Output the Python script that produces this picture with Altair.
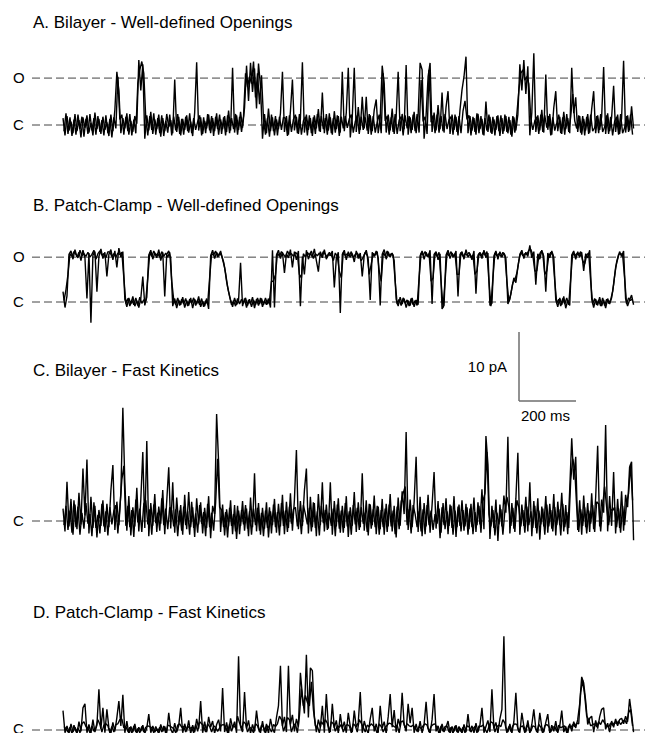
import altair as alt
import pandas as pd

# ---------------- data: current in pA relative to the closed level ----------------
# main samples every 7 ms, plus intermediate samples (…_mid) half way between them
DT_MS = 7.0

trace_a = [
    1.0,-1.5,1.3,-0.8,0.5,-1.2,1.6,-0.9,0.7,-1.8,1.1,-0.4,1.4,-1.1,0.3,-1.5,1.8,-0.6,0.9,-1.3,
    1.2,-0.7,0.4,-1.6,1.5,-0.9,2.2,7.7,5.0,-1.2,1.0,-0.5,1.7,-1.4,0.6,-1.0,1.3,0.2,9.4,5.0,
    8.8,-2.0,1.4,-0.8,1.9,-1.3,0.8,-0.6,1.5,-1.7,1.0,-0.9,1.6,-0.3,0.7,-1.2,6.6,-1.0,1.2,-1.5,
    0.9,-0.7,1.4,-1.1,0.5,-1.6,1.8,9.1,-0.8,1.1,-1.3,0.6,-0.5,1.5,-1.2,1.0,-0.9,1.7,-1.4,0.8,
    -0.6,1.3,-1.0,2.1,-0.8,8.3,-1.1,1.4,-0.7,1.9,-0.4,2.5,8.6,3.5,9.0,4.8,8.2,2.4,8.9,5.6,
    -2.0,1.6,-1.2,2.4,-0.9,1.1,-1.5,0.8,-0.6,1.7,7.7,-1.0,1.3,-1.4,2.0,6.6,-0.8,1.2,-1.3,0.9,
    9.1,-1.1,1.5,-0.7,1.0,-1.6,1.4,-0.5,2.3,-1.0,4.7,-1.2,1.6,-0.8,1.1,-1.4,2.0,-0.6,1.3,-1.1,
    7.7,-0.9,1.8,8.3,-1.8,1.2,8.3,-1.0,2.6,-0.7,4.1,-0.5,4.1,-1.3,1.4,-0.9,2.2,3.7,-1.2,1.0,
    8.6,6.0,-1.1,1.5,-0.8,2.4,-1.3,1.2,7.7,-0.9,1.6,-0.6,8.7,-1.4,1.1,-0.7,1.9,-1.2,1.3,9.0,
    8.0,-2.0,1.4,7.0,9.0,-1.0,1.8,-0.8,2.9,-0.6,4.7,-1.1,2.6,4.9,-1.3,1.5,-0.7,1.2,-1.5,2.2,
    5.1,7.0,9.9,-1.2,1.3,-0.8,1.0,-1.4,1.6,-0.6,0.9,-1.5,3.4,-1.0,1.2,-1.3,0.8,-0.7,1.4,-1.6,
    1.0,-0.9,1.3,-1.2,0.7,-1.7,1.1,-0.8,1.5,8.8,5.0,9.4,4.5,8.5,-1.5,1.8,10.4,-1.0,1.4,-0.8,
    2.2,-1.1,7.3,-0.7,1.6,-1.4,2.5,4.9,-0.9,1.2,-1.3,1.9,-0.6,1.0,-1.2,8.3,1.7,4.0,-1.0,1.3,
    -1.4,0.9,-0.8,1.6,-1.1,2.3,4.9,-1.2,1.4,-0.7,1.2,8.4,-1.3,1.7,-0.9,1.1,5.7,-1.0,1.5,-1.3,
    1.0,9.3,-1.1,1.4,-0.8,2.7,-0.5,
]
trace_a_mid = [
    -0.9,1.7,-1.3,1.1,-1.6,0.8,-1.4,1.5,-0.6,1.2,-1.7,0.9,-1.3,1.6,-0.8,1.0,-1.4,1.3,-1.0,0.7,
    -1.5,1.4,-1.2,0.9,-1.8,1.1,-0.5,7.0,0.8,1.5,-1.4,1.2,-0.9,1.6,-1.5,0.8,-1.2,6.0,8.0,9.2,
    7.5,0.9,-1.5,1.3,-0.7,1.7,-1.4,1.0,-1.2,1.4,-1.6,0.6,-1.1,1.5,-1.5,1.2,-0.8,1.6,-1.3,0.9,
    -1.4,1.2,-0.9,1.7,-1.2,1.0,-0.7,0.5,1.4,-1.5,1.1,-1.2,1.6,-0.8,1.3,-1.6,1.2,-0.6,1.5,-1.3,
    1.1,-1.5,1.4,-1.2,1.0,-0.6,1.6,-1.4,1.2,-1.0,1.3,7.5,5.5,7.0,6.0,9.2,4.0,7.5,3.0,7.2,
    0.9,-1.4,1.0,-1.7,1.5,-0.9,1.3,-1.5,1.2,-0.7,1.1,1.0,-1.6,1.4,-1.0,0.8,1.5,-1.2,1.6,-1.4,
    0.6,1.2,-1.5,1.4,-1.2,1.1,-1.3,1.6,-0.9,1.3,-0.6,1.0,-1.4,1.7,-1.2,1.0,-1.1,1.4,-1.6,1.2,
    -0.5,1.3,-0.4,0.9,1.5,-1.1,0.5,1.4,-1.3,1.2,-0.7,1.1,-0.8,1.6,-1.4,1.3,-1.1,0.4,1.5,-1.2,
    7.5,0.6,1.3,-1.4,1.1,-1.0,1.6,-1.3,0.7,1.2,-1.5,1.4,-0.5,1.3,-1.2,1.5,-0.9,1.6,-1.1,6.5,
    0.5,1.2,-1.3,8.0,0.4,1.4,-1.2,1.5,-1.1,1.3,-0.9,1.6,-0.6,0.8,1.2,-1.4,1.5,-1.0,1.3,-1.2,
    2.0,3.5,0.8,1.4,-1.5,1.2,-1.0,1.7,-1.2,1.3,-1.4,1.0,-0.8,1.5,-1.1,1.2,-1.5,1.3,-0.9,1.4,
    -1.3,1.5,-1.0,1.2,-1.4,1.3,-1.1,1.6,5.0,7.5,8.0,6.5,7.0,6.0,0.9,-0.7,0.6,1.2,-1.3,1.5,
    -1.0,1.4,-0.4,1.3,-1.5,1.1,-0.8,0.3,1.5,-1.2,1.1,-1.4,1.6,-1.0,1.2,4.5,0.6,-0.5,1.4,-1.1,
    1.3,-1.5,1.2,-1.3,1.5,-0.9,-0.4,1.3,-1.2,1.6,-1.0,-0.3,1.4,-1.3,1.2,-1.5,0.5,1.2,-1.4,1.6,
    -1.2,-0.4,1.3,-1.0,1.5,-1.4,
]

trace_b = [
    1.5,-0.8,0.9,6.9,7.4,6.2,7.6,6.5,7.2,6.0,7.5,6.4,0.5,7.1,-3.0,6.8,7.3,1.5,6.6,7.7,
    6.3,7.2,3.7,6.9,7.6,6.1,7.4,5.0,7.8,6.5,7.3,0.4,-0.7,0.6,-0.3,0.8,-0.6,0.2,-0.8,0.5,
    3.7,-0.5,0.7,6.8,7.5,6.2,7.1,6.4,7.6,6.0,7.2,0.8,6.9,7.4,6.3,-0.6,0.5,-0.9,0.3,-0.4,
    0.7,-0.8,0.2,-0.5,0.6,-0.9,0.4,-0.3,0.8,-0.7,0.1,-0.6,0.5,-1.0,6.7,7.5,6.3,7.2,6.6,7.4,
    6.2,5.0,3.0,1.5,0.3,-0.7,0.6,-0.4,0.2,5.7,-0.6,0.5,-0.8,0.3,-0.3,0.7,-0.9,0.4,-0.5,0.6,
    -0.7,0.2,-0.4,0.5,-0.8,7.5,-0.8,6.8,7.5,6.3,7.2,4.2,7.0,6.4,7.6,5.0,7.3,6.1,7.4,-0.6,
    6.6,4.0,7.5,6.2,7.1,6.5,7.7,6.0,4.4,7.3,6.4,7.6,6.2,7.0,6.7,7.4,2.1,6.3,7.2,-1.6,
    6.9,7.5,6.1,7.3,6.5,7.0,5.8,7.4,6.3,7.1,3.7,6.8,7.5,6.2,0.3,7.2,6.6,7.4,6.4,-0.5,
    6.9,7.6,6.2,7.3,6.5,7.1,6.0,0.4,-0.6,0.7,-0.3,0.5,-0.8,0.2,-0.5,0.6,-0.7,0.3,-0.4,6.7,
    7.4,6.2,7.2,6.5,7.5,-0.3,6.9,7.3,6.1,7.0,-1.0,-0.5,6.8,7.5,6.3,7.1,6.6,7.4,0.8,6.9,
    7.3,6.2,7.6,6.5,7.0,6.1,7.4,1.2,6.8,7.2,6.3,7.5,6.4,7.1,-0.5,-0.2,6.7,7.4,6.2,7.3,
    6.5,7.1,6.3,-0.3,0.4,2.0,3.5,2.8,5.0,6.9,7.5,6.3,7.2,6.6,8.2,6.4,7.3,2.5,7.0,6.2,
    7.5,6.6,1.5,7.1,6.4,7.4,6.5,0.3,-0.7,0.6,-0.4,0.8,-0.9,0.2,-0.5,6.8,7.4,6.2,7.3,6.5,
    7.2,4.5,7.0,6.4,7.5,0.5,-0.8,0.4,-0.5,0.7,-0.6,0.3,-0.9,0.5,-0.3,0.6,2.5,5.0,6.2,7.3,
    6.6,7.4,0.5,-0.6,0.3,1.0,-0.4,
]
trace_b_mid = [
    0.2,1.8,4.0,7.0,6.6,7.3,6.9,6.4,7.5,6.7,7.0,6.6,7.2,6.5,6.9,7.5,6.2,7.0,7.4,6.8,
    7.0,6.4,7.3,7.2,6.6,7.0,6.5,7.1,6.9,7.2,3.5,-0.2,0.5,-0.6,0.3,-0.4,0.6,-0.5,0.7,-0.2,
    0.3,0.2,3.5,7.2,6.6,7.4,6.8,7.0,6.5,7.3,6.6,7.1,6.5,7.2,3.0,0.3,-0.4,0.6,-0.5,0.4,
    -0.3,0.5,-0.6,0.4,-0.2,0.6,-0.5,0.3,-0.4,0.5,-0.7,0.2,-0.3,3.5,7.0,6.8,7.4,6.5,7.1,6.7,
    5.8,4.2,2.2,0.8,-0.4,0.2,-0.6,0.5,-0.3,0.4,-0.2,0.6,-0.5,0.4,-0.7,0.3,-0.4,0.6,-0.3,0.5,
    -0.4,0.6,-0.3,0.2,3.0,3.0,4.0,7.1,6.6,7.3,6.9,6.5,7.4,6.8,7.0,6.6,7.2,6.9,4.0,3.5,
    7.0,6.5,7.2,6.8,7.4,6.3,7.0,6.7,7.1,6.6,7.3,6.9,6.5,7.2,6.8,6.0,7.1,6.6,4.5,3.5,
    7.2,6.7,7.0,6.6,7.3,6.4,6.9,7.1,6.6,6.0,6.5,7.2,6.7,4.0,5.5,7.0,6.8,7.3,4.5,3.0,
    7.1,6.7,7.4,6.6,7.0,6.8,3.0,-0.3,0.4,-0.5,0.6,-0.2,0.3,-0.6,0.5,-0.4,0.2,-0.5,3.5,7.1,
    6.8,7.3,6.6,7.0,3.0,3.5,7.1,6.6,7.2,3.0,-0.8,3.0,7.1,6.7,7.3,6.5,7.0,4.0,4.0,7.2,
    6.6,7.0,6.8,7.2,6.5,6.8,4.0,4.5,7.0,6.7,7.1,6.8,7.3,3.0,-0.6,3.5,7.1,6.7,7.0,6.6,
    7.2,6.8,3.0,0.1,1.2,2.8,3.2,4.2,6.0,7.2,6.7,7.0,6.9,7.5,7.6,6.8,4.5,4.5,6.6,7.3,
    7.0,4.0,4.5,6.7,7.2,6.8,3.0,-0.2,0.4,-0.6,0.5,-0.3,0.6,-0.4,3.5,7.1,6.7,7.0,6.8,7.3,
    6.0,5.5,6.8,7.1,3.0,-0.3,0.5,-0.4,0.3,-0.6,0.6,-0.5,0.4,-0.2,0.3,1.5,3.8,5.8,6.9,7.0,
    6.9,3.5,-0.3,0.6,0.2,0.5,
]

trace_c = [
    1.8,-1.5,5.7,-0.8,3.2,-2.0,2.4,-1.2,4.1,-0.5,7.6,0.8,8.9,-1.8,3.5,-1.0,2.2,-2.4,1.6,-0.7,
    3.0,-1.6,2.5,-0.9,4.4,8.1,-1.3,2.8,-0.6,4.0,16.4,5.5,-1.4,3.6,-2.1,2.0,-0.8,4.8,-1.5,3.1,
    10.0,-1.0,11.6,-2.2,2.6,-0.7,3.9,-1.6,2.1,-0.4,4.5,-1.9,2.9,7.8,-1.1,5.6,-1.7,3.4,-0.6,2.3,
    -2.0,3.8,-1.2,4.2,-0.9,2.0,-2.3,3.3,-0.5,2.7,-1.8,1.9,-1.0,3.6,-2.5,2.2,1.0,15.5,8.5,-1.6,
    2.4,-2.1,1.7,-0.8,3.0,-1.9,2.3,-2.6,1.5,-0.7,2.9,-1.4,1.8,-2.2,3.4,-0.9,6.9,-1.5,2.6,-2.0,
    1.9,-1.1,2.7,-2.4,1.4,-0.6,3.2,-1.7,2.5,-0.8,3.8,-1.9,2.8,-1.0,4.0,-1.4,3.1,10.3,-1.2,2.9,
    -0.7,4.4,7.6,-1.8,3.5,-0.9,2.6,-2.2,3.9,-0.6,5.6,-1.5,2.4,-1.1,5.6,-2.0,2.9,-0.8,3.3,-1.7,
    2.2,-1.0,3.6,-2.3,2.0,-0.7,4.2,-1.6,2.7,-0.9,6.9,-1.4,3.0,-2.1,2.4,-0.6,3.7,-1.9,2.1,-1.2,
    3.2,-2.0,2.5,-0.8,3.9,-1.5,2.2,-2.4,3.4,-0.7,4.3,1.0,12.9,-1.3,3.1,-0.9,2.8,9.3,-1.6,3.5,
    -2.2,2.6,-0.8,3.8,-1.7,2.3,7.1,-1.1,2.9,-2.5,2.0,-0.6,3.3,-1.9,2.4,-1.0,3.6,-2.3,2.1,-0.7,
    3.0,-1.4,2.5,-2.0,1.8,-0.9,3.4,-1.6,2.7,-0.5,4.6,-1.2,12.3,8.2,-2.6,2.2,-1.0,3.1,-2.9,2.4,
    -0.8,3.7,1.2,12.2,-1.8,2.6,-1.1,3.2,9.9,-2.0,2.4,-0.7,3.5,-1.5,5.6,-2.2,2.9,-1.0,3.3,-2.7,
    2.1,-0.8,3.6,-1.7,2.5,-1.1,3.9,-2.1,2.8,-0.6,4.1,-1.5,2.3,-1.9,4.6,12.0,6.0,9.3,-1.3,3.0,
    -2.0,3.7,-0.9,2.6,-1.6,4.0,-1.2,3.4,10.9,-0.8,3.1,1.2,13.9,-1.5,3.6,-0.7,7.1,-1.8,3.2,-1.0,
    4.3,-1.4,3.8,2.0,7.8,8.6,-2.8,
]
trace_c_mid = [
    -0.6,2.2,-1.3,1.5,-1.7,3.0,-0.9,2.1,-2.0,1.2,-1.1,2.6,-0.4,1.0,-2.2,2.7,-1.0,0.9,-1.8,2.5,
    -0.8,1.4,-2.1,2.0,-0.5,1.5,2.3,-1.8,1.9,6.0,8.0,-0.7,2.2,-0.9,1.6,-2.3,3.1,-0.2,1.8,-1.6,
    2.5,3.0,-0.5,1.7,-2.0,2.4,-0.3,1.2,-1.4,3.3,-0.6,1.8,-1.2,2.0,1.5,-0.8,1.7,-2.2,1.5,-1.4,
    2.1,-0.6,1.4,-2.0,2.8,-1.0,1.1,-1.7,2.3,-0.4,1.3,-2.2,2.5,-0.9,1.2,-1.4,2.6,9.0,2.0,1.6,
    -0.9,1.3,-2.4,1.9,-0.7,1.0,-1.5,2.2,-1.9,1.6,-0.5,2.3,-1.1,1.4,-2.0,1.8,-0.6,1.9,-1.4,1.2,
    -2.2,1.5,-1.0,2.0,-1.8,2.4,-0.9,1.3,-2.1,2.6,-0.7,1.5,-1.6,2.1,-0.4,1.7,2.0,-0.8,1.6,-1.9,
    2.3,1.0,-0.5,1.9,-1.5,2.7,-1.0,1.4,-2.1,2.2,-0.3,1.6,-1.3,1.2,-0.7,1.8,-2.2,2.4,-1.1,1.5,
    -1.7,2.6,-0.8,1.4,-2.0,2.3,-0.5,1.9,-1.3,2.0,-0.4,1.2,-1.6,2.5,-1.1,1.7,-0.9,2.2,-2.0,1.6,
    -0.9,1.8,-1.6,2.4,-0.8,1.5,-1.9,2.1,-1.2,2.8,4.0,5.0,-0.6,1.7,-1.8,2.3,1.0,-0.9,1.4,-1.5,
    1.7,-1.9,2.3,-0.6,1.5,-1.3,1.0,-0.4,1.8,-1.7,2.6,-1.2,1.4,-0.7,2.2,-2.0,1.5,-0.9,2.4,-1.5,
    1.6,-0.8,2.0,-1.2,2.5,-1.9,1.3,-0.6,2.2,-1.7,2.9,4.0,10.0,1.0,-0.8,1.6,-2.1,1.2,-0.5,1.7,
    -2.0,1.5,3.5,2.0,-0.7,1.9,-1.6,3.0,2.0,-0.8,1.6,-1.7,2.1,-0.6,1.4,-1.0,2.2,-1.8,1.5,-0.5,
    1.8,-2.0,2.4,-0.8,1.6,-1.5,2.0,-0.6,1.7,-2.1,2.5,-0.9,1.3,-1.0,6.0,9.0,7.5,2.0,-1.6,1.7,
    -0.7,2.0,-1.8,1.5,-0.4,2.3,-1.6,2.8,2.5,-1.5,2.2,5.0,2.0,-0.6,1.7,1.5,2.0,-0.9,1.8,-1.7,
    2.2,-0.6,2.6,4.0,8.2,3.0,
]

trace_d = [
    2.8,-0.4,0.6,-0.5,0.9,-0.3,0.4,-0.6,1.2,-0.2,3.2,3.8,-0.4,0.8,-0.5,1.5,-0.3,0.7,5.9,0.2,
    3.2,-0.4,3.0,0.3,-0.5,1.1,-0.2,1.8,4.2,0.6,5.1,-0.4,1.3,-0.6,0.5,-0.3,0.9,-0.5,0.4,-0.2,
    0.7,-0.5,0.3,2.3,-0.4,0.6,-0.3,0.2,-0.6,0.8,-0.2,0.5,-0.4,2.5,0.1,-0.5,1.0,-0.3,0.6,3.2,
    -0.4,0.9,-0.2,1.4,-0.5,0.7,-0.3,1.6,0.2,4.2,-0.4,1.2,-0.3,1.9,0.4,1.3,-0.5,0.8,1.5,-0.2,
    6.1,-0.3,1.1,-0.5,1.7,0.3,1.2,-0.4,10.7,0.5,-0.3,5.5,0.2,1.4,-0.5,0.8,-0.2,2.8,0.4,-0.4,
    1.3,-0.3,0.9,-0.5,1.6,0.2,-0.4,1.8,3.5,9.3,0.6,1.9,-0.3,9.3,0.8,2.2,-0.2,1.6,0.5,8.3,
    5.0,2.4,10.9,1.8,9.0,8.6,2.0,-0.3,1.5,0.4,3.5,-0.4,5.2,0.6,-0.3,3.8,0.3,1.4,-0.5,2.3,
    0.2,1.2,-0.4,2.5,0.5,-0.3,2.8,0.4,1.1,5.5,-0.4,1.3,0.2,-0.5,1.6,3.2,-0.2,0.9,-0.4,3.5,
    0.3,1.2,-0.5,1.9,5.2,0.4,2.9,-0.3,1.6,0.5,5.4,0.8,-0.2,3.8,1.0,3.2,-0.4,0.9,-0.3,1.3,
    -0.4,0.8,4.1,0.3,-0.5,1.5,5.2,-0.2,0.6,-0.4,0.9,-0.3,0.4,1.3,-0.5,0.5,-0.2,0.7,-0.4,0.3,
    -0.5,0.8,-0.3,2.3,-0.2,0.6,-0.4,1.0,-0.3,0.7,3.2,-0.4,0.5,1.4,-0.3,5.9,0.2,1.1,-0.5,1.6,
    3.0,13.6,0.4,-0.3,0.9,-0.5,1.2,5.4,0.3,-0.4,2.5,0.6,-0.3,1.4,-0.5,0.8,3.0,0.2,-0.4,2.5,
    0.4,-0.3,1.1,2.3,-0.5,0.7,-0.2,1.3,-0.4,0.6,2.8,-0.3,0.5,-0.5,0.9,-0.2,1.2,0.3,1.5,3.8,
    7.7,6.8,4.2,0.8,1.7,2.0,-0.3,1.4,0.2,1.9,3.0,3.2,0.1,1.0,-0.3,1.3,0.4,1.6,0.6,1.5,
    1.7,0.9,2.0,1.2,4.5,2.3,-0.3,
]
trace_d_mid = [
    0.5,0.2,-0.3,0.4,-0.5,0.7,-0.2,0.3,-0.4,0.9,1.2,0.5,0.3,-0.4,0.6,-0.2,0.4,1.5,0.8,-0.3,
    0.7,0.9,0.6,-0.4,0.5,-0.3,0.8,0.9,1.5,1.6,0.3,0.5,-0.2,0.4,-0.5,0.6,-0.3,0.2,-0.4,0.5,
    -0.3,0.4,0.6,0.5,0.3,-0.4,0.5,-0.2,0.4,-0.3,0.6,-0.5,0.7,0.6,0.4,0.2,-0.4,0.7,0.9,0.4,
    0.5,-0.3,0.6,0.2,0.4,-0.4,0.8,-0.2,1.2,0.9,0.6,-0.3,0.9,0.5,-0.3,0.6,0.4,-0.2,0.3,0.7,
    0.8,0.5,-0.4,0.9,-0.2,0.7,0.3,2.0,1.0,0.2,1.2,0.9,-0.3,0.4,0.2,-0.4,0.9,0.6,-0.3,0.7,
    0.4,-0.5,0.6,0.3,-0.3,0.8,0.5,0.9,2.0,1.5,-0.2,0.7,1.8,1.5,-0.3,0.6,0.9,-0.4,2.0,6.0,
    3.5,5.0,4.0,3.5,7.0,3.0,0.6,0.5,-0.4,1.2,0.8,1.5,1.0,-0.4,1.2,0.9,-0.2,0.6,0.4,0.8,
    -0.3,0.5,0.8,0.6,-0.4,0.9,0.6,-0.3,1.5,1.0,0.4,-0.3,0.7,0.5,0.9,0.6,0.3,-0.5,0.9,0.5,
    -0.3,0.4,0.7,1.0,0.9,0.6,0.4,0.7,-0.4,1.2,1.3,0.3,0.9,0.6,0.5,0.7,0.3,-0.2,0.5,0.2,
    0.6,0.9,0.7,-0.3,0.5,0.8,0.9,0.3,-0.5,0.6,-0.2,0.5,0.6,-0.3,0.4,-0.5,0.6,-0.3,0.5,-0.2,
    0.4,-0.4,0.6,0.5,-0.3,0.2,0.5,-0.4,0.6,0.5,0.7,0.2,-0.4,0.5,1.2,1.0,-0.3,0.5,0.7,0.5,
    1.5,1.0,-0.4,0.5,-0.2,0.6,0.9,0.8,-0.3,0.5,0.6,-0.4,0.7,0.3,-0.2,0.6,0.5,-0.3,0.8,0.4,
    -0.5,0.6,0.8,0.5,-0.3,0.4,0.5,-0.2,0.7,0.3,0.5,0.6,-0.4,0.6,0.3,0.8,0.5,1.0,0.9,5.5,
    7.2,5.0,2.0,1.5,0.6,0.8,0.9,0.5,1.2,0.8,1.5,1.0,0.6,0.4,1.0,0.7,1.1,0.9,1.3,0.8,
    1.2,1.5,0.9,2.5,3.0,0.6,
]

panel_titles = [
    "A. Bilayer - Well-defined Openings",
    "B. Patch-Clamp - Well-defined Openings",
    "C. Bilayer - Fast Kinetics",
    "D. Patch-Clamp - Fast Kinetics",
]
OPEN_PA = 6.8           # unitary open-channel current (pA)
SCALE_PA = 10           # scale bar, current
SCALE_MS = 200          # scale bar, time
scale_labels = ["10 pA", "200 ms"]

series = [
    ("A", trace_a, trace_a_mid),
    ("B", trace_b, trace_b_mid),
    ("C", trace_c, trace_c_mid),
    ("D", trace_d, trace_d_mid),
]
for name, tr, mid in series:
    assert len(tr) == 287 and len(mid) == 286, f"trace {name}: {len(tr)} / {len(mid)}"

# ---------------- layout (pixels -> data units) ----------------
W, H = 645, 733
PX_PER_PA = 6.9          # 10 pA = 69 px
PX_PER_MS = 57 / 200     # 200 ms = 57 px
TRACE_X0 = 63            # px where the traces start
Y_TOP = -3 / PX_PER_PA + H / PX_PER_PA   # data value at the top edge


def xv(px):
    return (px - TRACE_X0) / PX_PER_MS


def yv(py):
    return Y_TOP - py / PX_PER_PA


X_DOM = [xv(0), xv(W)]
Y_DOM = [yv(H), yv(0)]

closed_px = {"A": 125, "B": 302, "C": 521, "D": 730}
closed = {k: yv(v) for k, v in closed_px.items()}

xs = alt.Scale(domain=X_DOM, nice=False, zero=False)
ys = alt.Scale(domain=Y_DOM, nice=False, zero=False)
FONT = "Liberation Sans"

# traces: the main samples and the half-step samples are drawn as two interleaved strokes
rows = []
for name, tr, mid in series:
    for i, v in enumerate(tr):
        rows.append({"trace": name + "0", "t": i * DT_MS, "current": closed[name] + v})
    for i, v in enumerate(mid):
        rows.append({"trace": name + "1", "t": i * DT_MS + DT_MS / 2, "current": closed[name] + v})
df_tr = pd.DataFrame(rows)

traces = alt.Chart(df_tr).mark_line(color="black", strokeWidth=1.4, strokeJoin="bevel").encode(
    x=alt.X("t:Q", scale=xs, axis=None),
    y=alt.Y("current:Q", scale=ys, axis=None),
    detail="trace:N",
)

# dashed level lines
lvl = pd.DataFrame({
    "y": [closed["A"] + OPEN_PA, closed["A"], closed["B"] + OPEN_PA - 0.3, closed["B"], closed["C"], closed["D"]],
    "x1": [xv(32)] * 6,
    "x2": [xv(W)] * 6,
})
levels = alt.Chart(lvl).mark_rule(color="#444444", strokeWidth=1, strokeDash=[8, 4]).encode(
    x=alt.X("x1:Q", scale=xs, axis=None), x2="x2:Q", y=alt.Y("y:Q", scale=ys, axis=None)
)

# O / C labels
oc = pd.DataFrame({
    "x": [xv(13)] * 6,
    "y": [closed["A"] + OPEN_PA, closed["A"], closed["B"] + OPEN_PA - 0.3, closed["B"], closed["C"], yv(729)],
    "txt": ["O", "C", "O", "C", "C", "C"],
})
oc_text = alt.Chart(oc).mark_text(align="left", baseline="middle", fontSize=15, font=FONT, color="black").encode(
    x=alt.X("x:Q", scale=xs, axis=None), y=alt.Y("y:Q", scale=ys, axis=None), text="txt:N"
)

# panel titles
tt = pd.DataFrame({
    "x": [xv(33)] * 4,
    "y": [yv(28), yv(211), yv(376), yv(618)],
    "txt": panel_titles,
})
title_text = alt.Chart(tt).mark_text(align="left", baseline="alphabetic", fontSize=17, font=FONT, color="black").encode(
    x=alt.X("x:Q", scale=xs, axis=None), y=alt.Y("y:Q", scale=ys, axis=None), text="txt:N"
)

# scale bar
SB_X = 1600
SB_Y = yv(401)
sb = pd.DataFrame({
    "x1": [SB_X, SB_X],
    "x2": [SB_X, SB_X + SCALE_MS],
    "y1": [SB_Y, SB_Y],
    "y2": [SB_Y + SCALE_PA, SB_Y],
})
scalebar = alt.Chart(sb).mark_rule(color="#6e6e6e", strokeWidth=1.5).encode(
    x=alt.X("x1:Q", scale=xs, axis=None), x2="x2:Q",
    y=alt.Y("y1:Q", scale=ys, axis=None), y2="y2:Q",
)
sbl = pd.DataFrame({
    "x": [xv(507), SB_X + SCALE_MS / 2 - 7],
    "y": [yv(367), yv(416)],
    "txt": scale_labels,
})
sb_text1 = alt.Chart(sbl.iloc[[0]]).mark_text(align="right", baseline="middle", fontSize=15, font=FONT, color="black").encode(
    x=alt.X("x:Q", scale=xs, axis=None), y=alt.Y("y:Q", scale=ys, axis=None), text="txt:N"
)
sb_text2 = alt.Chart(sbl.iloc[[1]]).mark_text(align="center", baseline="middle", fontSize=15, font=FONT, color="black").encode(
    x=alt.X("x:Q", scale=xs, axis=None), y=alt.Y("y:Q", scale=ys, axis=None), text="txt:N"
)

chart = alt.layer(levels, traces, oc_text, title_text, scalebar, sb_text1, sb_text2).properties(
    width=W, height=H, padding=0, autosize=alt.AutoSizeParams(type="none"), background="white"
).configure_view(stroke=None)

chart.save("out.html", embed_options={"renderer": "svg", "actions": False})
